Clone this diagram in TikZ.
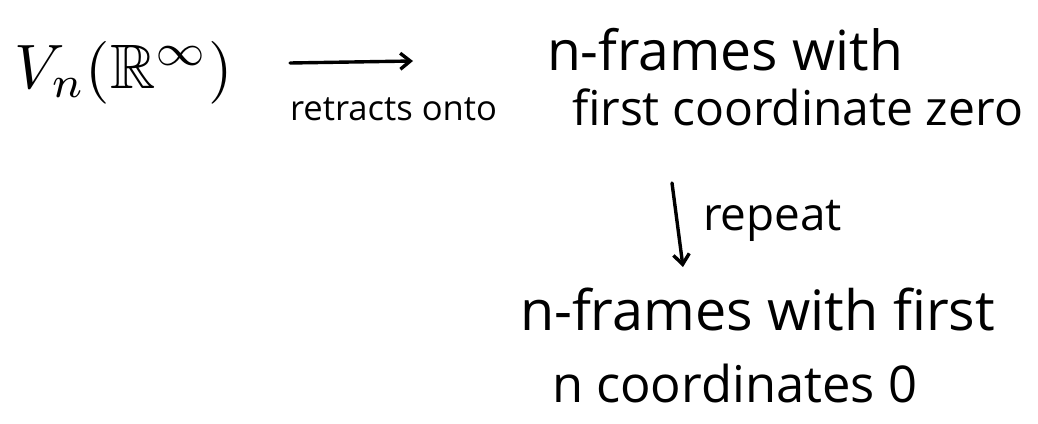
\documentclass[tikz,border=0pt]{standalone}
\usepackage{graphicx}
\usepackage{amssymb}
\usepackage{fontspec}
\setmainfont{Open Sans}
\usetikzlibrary{arrows.meta}
\begin{document}
\begin{tikzpicture}[x=1pt,y=-1pt,
  txt/.style={anchor=base west,inner sep=0pt,outer sep=0pt},
  conn/.style={line width=3.4pt,line cap=round,-{Straight Barb[length=10pt,width=16pt,line width=3.4pt]}}]
\useasboundingbox (0,0) rectangle (1038,423);
\newcommand{\fitw}[2]{\resizebox{#1pt}{!}{\fontsize{36}{40}\selectfont #2}}
\node[txt] (V) at (15,88) {\resizebox{218pt}{!}{$V_n(\mathbb{R}^{\infty})$}};
\node[txt] (ro) at (290,120) {\fitw{207}{retracts onto}};
\node[txt] (l1) at (547,70) {\fitw{356}{n-frames with}};
\node[txt] (l2) at (572,125) {\fitw{451}{first coordinate zero}};
\node[txt] (rep) at (703,230) {\fitw{139}{repeat}};
\node[txt] (l3) at (520,330) {\fitw{475}{n-frames with first}};
\node[txt] (l4) at (552,402) {\fitw{365}{n coordinates 0}};
\coordinate (a1s) at (290,63);
\coordinate (a1e) at (413,61);
\coordinate (a2s) at (672,183);
\coordinate (a2e) at (683,267);
\draw[conn] (a1s) -- (a1e);
\draw[conn] (a2s) -- (a2e);
\end{tikzpicture}
\end{document}
